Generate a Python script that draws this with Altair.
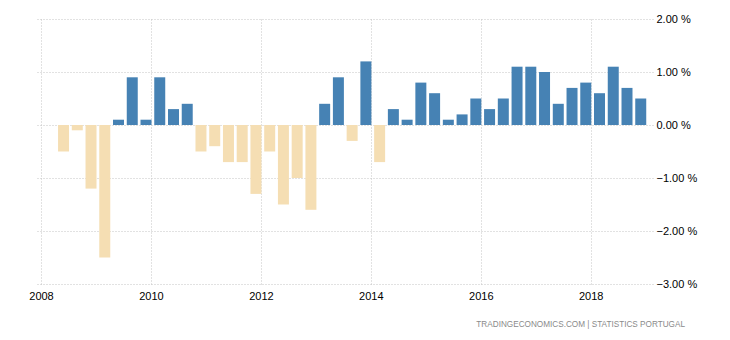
import altair as alt
import pandas as pd

years = [2008]*3 + [y for y in range(2009, 2019) for _ in range(4)]
quarters = [2, 3, 4] + [1, 2, 3, 4]*10
growth = [
    -0.5, -0.1, -1.2,
    -2.5, 0.1, 0.9, 0.1,
    0.9, 0.3, 0.4, -0.5,
    -0.4, -0.7, -0.7, -1.3,
    -0.5, -1.5, -1.0, -1.6,
    0.4, 0.9, -0.3, 1.2,
    -0.7, 0.3, 0.1, 0.8,
    0.6, 0.1, 0.2, 0.5,
    0.3, 0.5, 1.1, 1.1,
    1.0, 0.4, 0.7, 0.8,
    0.6, 1.1, 0.7, 0.5,
]
x_ticks = [2008, 2010, 2012, 2014, 2016, 2018]
y_ticks = [-3, -2, -1, 0, 1, 2]

df = pd.DataFrame({"year": years, "q": quarters, "value": growth})

FONT = "Liberation Sans"

base = alt.Chart(df).transform_calculate(
    t="datum.year + (datum.q - 1) * 0.25 + 0.16"
).transform_calculate(
    t0="datum.t - 0.1", t1="datum.t + 0.1"
)

bars = base.mark_bar().encode(
    x=alt.X("t0:Q",
            scale=alt.Scale(domain=[2007.909, 2019.133], nice=False, zero=False),
            axis=alt.Axis(values=x_ticks, format="d", title=None, domain=False, ticks=False,
                          grid=True, gridColor="#c4c4c4", gridDash=[1, 2], gridWidth=1,
                          labelFont=FONT, labelFontSize=11, labelColor="#000000",
                          labelPadding=6, labelFlush=False)),
    x2="t1:Q",
    y=alt.Y("value:Q",
            scale=alt.Scale(domain=[-3, 2], nice=False),
            axis=alt.Axis(orient="right", values=y_ticks, title=None, domain=False, ticks=False,
                          grid=True, gridColor="#c4c4c4", gridDash=[1, 2], gridWidth=1,
                          labelExpr="format(datum.value, '.2f') + ' %'",
                          labelFont=FONT, labelFontSize=11, labelColor="#000000",
                          labelPadding=3, labelFlush=False)),
    y2=alt.datum(0),
    color=alt.condition(alt.datum.value >= 0, alt.value("#4682B4"), alt.value("#F5DEB3")),
)

footer = alt.Chart(pd.DataFrame({"txt": ["TRADINGECONOMICS.COM | STATISTICS PORTUGAL"]})).mark_text(
    align="right", baseline="middle", font=FONT, fontSize=8.2, color="#8a8a8a"
).encode(
    text="txt:N", x=alt.value(649), y=alt.value(306)
)

chart = alt.layer(bars, footer).properties(
    width=617, height=265,
    autosize=alt.AutoSizeParams(type="none"),
    padding={"left": 36, "top": 19, "right": 77, "bottom": 56},
).configure_view(stroke=None)

chart.save("out.html", embed_options={"renderer": "svg", "actions": False})
